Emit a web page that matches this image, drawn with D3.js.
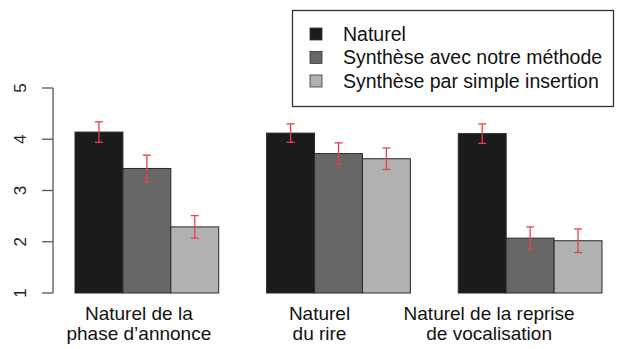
<!DOCTYPE html>
<html>
<head>
<meta charset="utf-8">
<script src="https://cdn.jsdelivr.net/npm/d3@7"></script>
<style>
  body { margin: 0; background: #fff; }
  svg { display: block; font-family: "Liberation Sans", Arial, sans-serif; }
</style>
</head>
<body>
<div id="chart"></div>
<script>
// categories (two-line labels) and series
const categories = ["phase", "rire", "reprise"];
const categoryLabels = [
    ["Naturel de la", "phase d\u2019annonce"],
    ["Naturel", "du rire"],
    ["Naturel de la reprise", "de vocalisation"]
];
const seriesNames = ["Naturel", "Synthèse avec notre méthode", "Synthèse par simple insertion"];
const naturel = [4.14, 4.12, 4.11];
const notreMethode = [3.43, 3.72, 2.07];
const simpleInsertion = [2.29, 3.62, 2.02];
const errNaturel = [0.20, 0.18, 0.19];
const errNotreMethode = [0.26, 0.21, 0.22];
const errSimpleInsertion = [0.22, 0.21, 0.23];
const yTicks = [1, 2, 3, 4, 5];

const seriesValues = [naturel, notreMethode, simpleInsertion];
const seriesErrors = [errNaturel, errNotreMethode, errSimpleInsertion];
const fills = ["#1b1b1b", "#676767", "#b1b1b1"];
// labels in the original sit a little left of their groups
const labelShift = [-8, -19, -41];

const width = 624, height = 349;

const svg = d3.select("#chart").append("svg")
    .attr("width", width)
    .attr("height", height);

const y = d3.scaleLinear().domain([1, 5]).range([293, 88]);
const x0 = d3.scaleBand().domain(categories).range([75, 602]).paddingInner(0.25).paddingOuter(0);
const x1 = d3.scaleBand().domain(d3.range(seriesNames.length)).range([0, x0.bandwidth()]);

// y axis drawn R-style: line from first to last tick, rotated labels
const axisX = 53;
const axis = svg.append("g").attr("class", "y-axis");
axis.append("line")
    .attr("x1", axisX).attr("x2", axisX)
    .attr("y1", y(1)).attr("y2", y(5))
    .attr("stroke", "#555").attr("stroke-width", 1.3);
axis.selectAll(".tick")
    .data(yTicks)
    .join("line")
    .attr("class", "tick")
    .attr("x1", axisX - 11).attr("x2", axisX)
    .attr("y1", d => y(d)).attr("y2", d => y(d))
    .attr("stroke", "#555").attr("stroke-width", 1.3);
axis.selectAll(".tick-label")
    .data(yTicks)
    .join("text")
    .attr("class", "tick-label")
    .attr("transform", d => `translate(26,${y(d)}) rotate(-90)`)
    .attr("text-anchor", "middle")
    .attr("font-size", 17)
    .attr("fill", "#222")
    .text(d => d);

// bars
const groups = svg.selectAll(".group")
    .data(categories)
    .join("g")
    .attr("class", "group")
    .attr("transform", d => `translate(${x0(d)},0)`);

groups.selectAll("rect")
    .data((d, i) => seriesValues.map((s, j) => ({ j, v: s[i], e: seriesErrors[j][i] })))
    .join("rect")
    .attr("x", d => x1(d.j))
    .attr("y", d => y(d.v))
    .attr("width", x1.bandwidth())
    .attr("height", d => y(1) - y(d.v))
    .attr("fill", d => fills[d.j])
    .attr("stroke", "#2a2a2a")
    .attr("stroke-width", 1);

// error bars
const errs = groups.selectAll(".err")
    .data((d, i) => seriesValues.map((s, j) => ({ j, v: s[i], e: seriesErrors[j][i] })))
    .join("g")
    .attr("class", "err")
    .attr("stroke", "#e8404c")
    .attr("stroke-width", 1.3);
errs.append("line")
    .attr("x1", d => x1(d.j) + x1.bandwidth() / 2)
    .attr("x2", d => x1(d.j) + x1.bandwidth() / 2)
    .attr("y1", d => y(d.v + d.e))
    .attr("y2", d => y(d.v - d.e));
errs.append("line")
    .attr("x1", d => x1(d.j) + x1.bandwidth() / 2 - 4)
    .attr("x2", d => x1(d.j) + x1.bandwidth() / 2 + 4)
    .attr("y1", d => y(d.v + d.e))
    .attr("y2", d => y(d.v + d.e));
errs.append("line")
    .attr("x1", d => x1(d.j) + x1.bandwidth() / 2 - 4)
    .attr("x2", d => x1(d.j) + x1.bandwidth() / 2 + 4)
    .attr("y1", d => y(d.v - d.e))
    .attr("y2", d => y(d.v - d.e));

// category labels
svg.selectAll(".cat-label")
    .data(categories)
    .join("text")
    .attr("class", "cat-label")
    .attr("text-anchor", "middle")
    .attr("font-size", 19)
    .attr("fill", "#111")
    .each(function (d, i) {
        const cx = x0(d) + x0.bandwidth() / 2 + labelShift[i];
        d3.select(this).selectAll("tspan")
            .data(categoryLabels[i])
            .join("tspan")
            .attr("x", cx)
            .attr("y", (t, k) => 320 + k * 20)
            .text(t => t);
    });

// legend
const legend = svg.append("g").attr("class", "legend");
legend.append("rect")
    .attr("x", 292.5).attr("y", 10.5)
    .attr("width", 321).attr("height", 96)
    .attr("fill", "#fff")
    .attr("stroke", "#333").attr("stroke-width", 1.3);
const items = legend.selectAll(".item")
    .data(seriesNames)
    .join("g")
    .attr("class", "item")
    .attr("transform", (d, i) => `translate(310,${34 + i * 23.5})`);
items.append("rect")
    .attr("x", 0).attr("y", -6)
    .attr("width", 12).attr("height", 12)
    .attr("fill", (d, i) => fills[i])
    .attr("stroke", "#333").attr("stroke-width", 0.8);
items.append("text")
    .attr("x", 33).attr("y", 6.5)
    .attr("font-size", 19.5)
    .attr("fill", "#111")
    .text(d => d);
</script>
</body>
</html>
